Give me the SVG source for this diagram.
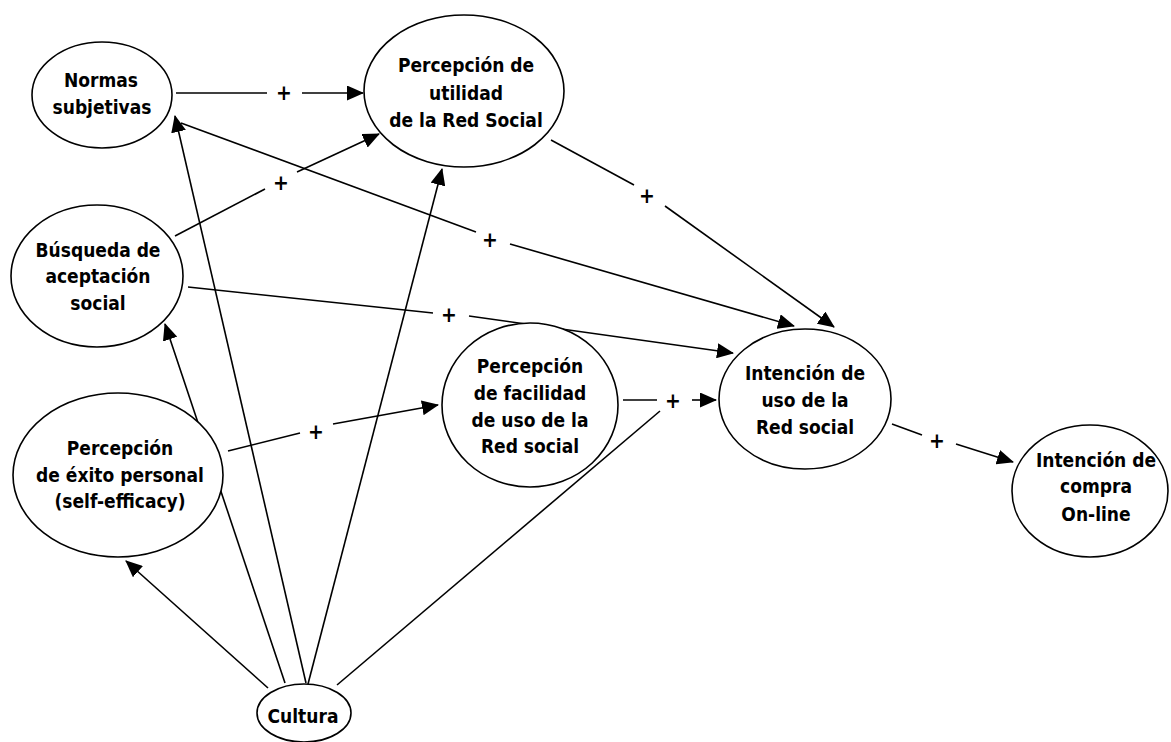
<svg xmlns="http://www.w3.org/2000/svg" width="1171" height="742" viewBox="0 0 1171 742">
  <defs>
    <marker id="arrow" markerUnits="userSpaceOnUse" markerWidth="17" markerHeight="15" viewBox="0 0 17 15" refX="16" refY="7.5" orient="auto">
      <path d="M0,0 L17,7.5 L0,15 z" fill="#000"/>
    </marker>
    <style>
      .edge { fill: none; stroke: #000; stroke-width: 1.6; }
      .arr { marker-end: url(#arrow); }
      .node ellipse { fill: #fff; stroke: #000; stroke-width: 1.6; }
      text { font-family: 'DejaVu Sans Condensed', 'DejaVu Sans', sans-serif; font-stretch: condensed; font-weight: bold; font-size: 19px; fill: #000; text-anchor: middle; }
      .plus { font-size: 21px; }
    </style>
  </defs>
  <rect width="1171" height="742" fill="#fff"/>

  <g id="connectors">
    <!-- Normas subjetivas -> Percepción de utilidad -->
    <path class="edge" d="M176,93 L267,93"/>
    <path class="edge arr" d="M302,93 L363,93"/>
    <text class="plus" x="284" y="100">+</text>
    <!-- Búsqueda de aceptación social -> Percepción de utilidad -->
    <path class="edge" d="M175,236 L265,189"/>
    <path class="edge arr" d="M297,172 L379,134"/>
    <text class="plus" x="281" y="190">+</text>
    <!-- Percepción de utilidad -> Intención de uso -->
    <path class="edge" d="M551,140 L634,185"/>
    <path class="edge arr" d="M665,206 L834,327"/>
    <text class="plus" x="647" y="203">+</text>
    <!-- Normas subjetivas -> Intención de uso -->
    <path class="edge" d="M181,123 L476,232"/>
    <path class="edge arr" d="M510,244 L794,326"/>
    <text class="plus" x="490" y="247">+</text>
    <!-- Búsqueda de aceptación social -> Intención de uso -->
    <path class="edge" d="M188,287 L433,313"/>
    <path class="edge arr" d="M469,316 L733,353"/>
    <text class="plus" x="449" y="322">+</text>
    <!-- Percepción de éxito personal -> Percepción de facilidad -->
    <path class="edge" d="M228,451 L300,433"/>
    <path class="edge arr" d="M333,424 L438,405"/>
    <text class="plus" x="316" y="439">+</text>
    <!-- Percepción de facilidad -> Intención de uso -->
    <path class="edge" d="M623,400 L657,400"/>
    <path class="edge arr" d="M692,400 L716,400"/>
    <text class="plus" x="673" y="408">+</text>
    <!-- Intención de uso -> Intención de compra -->
    <path class="edge" d="M892,424 L922,435"/>
    <path class="edge arr" d="M956,444 L1013,462"/>
    <text class="plus" x="937" y="448">+</text>
    <!-- Cultura -> antecedents -->
    <path class="edge arr" d="M268,688 L126,561"/>
    <path class="edge arr" d="M285,683 L165,324"/>
    <path class="edge arr" d="M306,683 L175,116"/>
    <path class="edge arr" d="M308,684 L442,169"/>
    <path class="edge" d="M337,685 L660,411"/>
  </g>

  <g id="normas" class="node">
    <ellipse cx="102" cy="95" rx="70" ry="53"/>
    <text x="101" y="87">Normas</text>
    <text x="102" y="114">subjetivas</text>
  </g>
  <g id="utilidad" class="node">
    <ellipse cx="464" cy="91" rx="100" ry="76"/>
    <text x="466" y="72">Percepción de</text>
    <text x="466" y="100">utilidad</text>
    <text x="466" y="127">de la Red Social</text>
  </g>
  <g id="busqueda" class="node">
    <ellipse cx="97" cy="276" rx="86" ry="71"/>
    <text x="98" y="257">Búsqueda de</text>
    <text x="98" y="283">aceptación</text>
    <text x="98" y="310">social</text>
  </g>
  <g id="exito" class="node">
    <ellipse cx="118" cy="475" rx="105" ry="82"/>
    <text x="120" y="455">Percepción</text>
    <text x="120" y="482">de éxito personal</text>
    <text x="120" y="508">(self-efficacy)</text>
  </g>
  <g id="facilidad" class="node">
    <ellipse cx="530" cy="405" rx="88" ry="82"/>
    <text x="530" y="373">Percepción</text>
    <text x="530" y="400">de facilidad</text>
    <text x="530" y="427">de uso de la</text>
    <text x="530" y="453">Red social</text>
  </g>
  <g id="uso" class="node">
    <ellipse cx="805" cy="399" rx="86" ry="70"/>
    <text x="805" y="380">Intención de</text>
    <text x="805" y="407">uso de la</text>
    <text x="805" y="434">Red social</text>
  </g>
  <g id="compra" class="node">
    <ellipse cx="1090" cy="491" rx="78" ry="66"/>
    <text x="1096" y="467">Intención de</text>
    <text x="1096" y="493">compra</text>
    <text x="1096" y="521">On-line</text>
  </g>
  <g id="cultura" class="node">
    <ellipse cx="304" cy="713" rx="47" ry="29"/>
    <text x="303" y="723">Cultura</text>
  </g>
</svg>
